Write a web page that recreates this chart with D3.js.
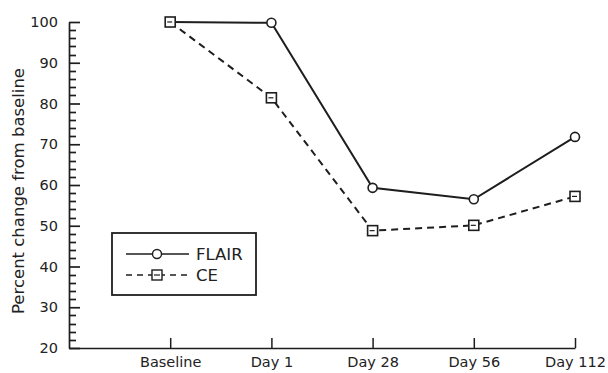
<!DOCTYPE html>
<html>
<head>
<meta charset="utf-8">
<script src="https://cdn.jsdelivr.net/npm/d3@7"></script>
<style>
  html, body { margin: 0; padding: 0; background: #fff; }
  svg { display: block; }
  text { font-family: "DejaVu Sans", sans-serif; fill: #222; }
</style>
</head>
<body>
<svg id="chart" width="608" height="373"></svg>
<script>
const categories = ["Baseline", "Day 1", "Day 28", "Day 56", "Day 112"];
const flairValues = [100, 99.8, 59.3, 56.5, 71.8];
const ceValues = [100, 81.4, 48.8, 50.1, 57.2];
const yMajorTicks = [20, 30, 40, 50, 60, 70, 80, 90, 100];
const yMinorTicks = [22, 24, 26, 28, 32, 34, 36, 38, 42, 44, 46, 48, 52, 54, 56, 58,
                     62, 64, 66, 68, 72, 74, 76, 78, 82, 84, 86, 88, 92, 94, 96, 98];
const seriesNames = ["FLAIR", "CE"];

(function () {
const ink = "#1e1e1e";
const svg = d3.select("#chart");
const mLeft = 69, mRight = 575, mTop = 22, mBottom = 348;

const x = d3.scaleLinear().domain([-1, categories.length - 1]).range([mLeft, mRight]);
const y = d3.scaleLinear().domain([20, 100]).range([mBottom, mTop]);

// Y axis minor ticks
svg.append("g").attr("class", "minor")
  .selectAll("line").data(yMinorTicks).join("line")
  .attr("x1", mLeft).attr("x2", mLeft + 7)
  .attr("y1", d => Math.round(y(d)) + 0.5).attr("y2", d => Math.round(y(d)) + 0.5)
  .attr("stroke", ink).attr("stroke-width", 1.7);

// Y axis major
const yAxis = d3.axisLeft(y).tickValues(yMajorTicks).tickSizeInner(-11).tickSizeOuter(0).tickPadding(11).tickFormat(d3.format("d"));
svg.append("g").attr("transform", `translate(${mLeft},0)`).call(yAxis)
  .call(g => g.select(".domain").attr("stroke", ink).attr("stroke-width", 1.7))
  .call(g => g.selectAll("line").attr("stroke", ink).attr("stroke-width", 1.7))
  .call(g => g.selectAll("text").attr("font-size", 14.5).attr("font-family", "DejaVu Sans").attr("fill", ink));

// X axis
const xAxis = d3.axisBottom(x).tickValues(d3.range(categories.length)).tickSizeInner(-10).tickSizeOuter(0).tickPadding(9)
  .tickFormat(i => categories[i]);
svg.append("g").attr("transform", `translate(0,${mBottom})`).call(xAxis)
  .call(g => g.select(".domain").attr("stroke", ink).attr("stroke-width", 1.7))
  .call(g => g.selectAll("line").attr("stroke", ink).attr("stroke-width", 1.5))
  .call(g => g.selectAll("text").attr("font-size", 14.5).attr("font-family", "DejaVu Sans").attr("fill", ink));

// Y title
svg.append("text")
  .attr("transform", `translate(24,${(mTop + mBottom) / 2 + 6}) rotate(-90)`)
  .attr("text-anchor", "middle")
  .attr("font-size", 16.5)
  .text("Percent change from baseline");

const line = d3.line().x((d, i) => x(i)).y(d => y(d));

svg.append("path").datum(ceValues).attr("d", line)
  .attr("fill", "none").attr("stroke", ink).attr("stroke-width", 2)
  .attr("stroke-dasharray", "7,5");
svg.append("path").datum(flairValues).attr("d", line)
  .attr("fill", "none").attr("stroke", ink).attr("stroke-width", 2);

svg.selectAll("circle.flair").data(flairValues).join("circle")
  .attr("class", "flair")
  .attr("cx", (d, i) => x(i)).attr("cy", d => y(d)).attr("r", 4.5)
  .attr("fill", "#fff").attr("stroke", ink).attr("stroke-width", 1.6);
const sq = 10;
svg.selectAll("rect.ce").data(ceValues).join("rect")
  .attr("class", "ce")
  .attr("x", (d, i) => x(i) - sq / 2).attr("y", d => y(d) - sq / 2)
  .attr("width", sq).attr("height", sq)
  .attr("fill", "#fff").attr("stroke", ink).attr("stroke-width", 1.6);
svg.selectAll("line.ceinner").data(ceValues).join("line")
  .attr("class", "ceinner")
  .attr("x1", (d, i) => x(i) - 3).attr("x2", (d, i) => x(i) + 2)
  .attr("y1", d => y(d)).attr("y2", d => y(d))
  .attr("stroke", ink).attr("stroke-width", 1.2);

// Legend
const lg = svg.append("g");
lg.append("rect").attr("x", 112).attr("y", 233).attr("width", 144).attr("height", 62)
  .attr("fill", "#fff").attr("stroke", ink).attr("stroke-width", 1.8);
const legendRows = [
  { name: seriesNames[0], dash: null, y: 254 },
  { name: seriesNames[1], dash: "6,5", y: 275 }
];
legendRows.forEach((r, k) => {
  lg.append("line").attr("x1", 126).attr("x2", 189).attr("y1", r.y).attr("y2", r.y)
    .attr("stroke", ink).attr("stroke-width", 1.4)
    .attr("stroke-dasharray", r.dash);
  if (k === 0) {
    lg.append("circle").attr("cx", 157).attr("cy", r.y).attr("r", 4.5)
      .attr("fill", "#fff").attr("stroke", ink).attr("stroke-width", 1.4);
  } else {
    lg.append("rect").attr("x", 152).attr("y", r.y - 5).attr("width", 10).attr("height", 10)
      .attr("fill", "#fff").attr("stroke", ink).attr("stroke-width", 1.4);
    lg.append("line").attr("x1", 154).attr("x2", 160).attr("y1", r.y).attr("y2", r.y)
      .attr("stroke", ink).attr("stroke-width", 1.2);
  }
  lg.append("text").attr("x", 196).attr("y", r.y + 6).attr("font-size", 16.5).text(r.name);
});
})();
</script>
</body>
</html>
